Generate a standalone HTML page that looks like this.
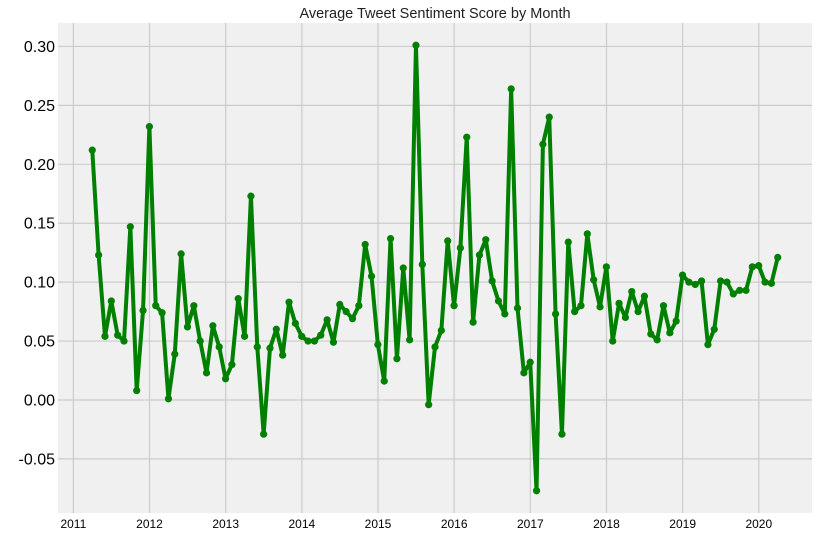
<!DOCTYPE html>
<html><head><meta charset="utf-8"><style>
html,body{margin:0;padding:0;background:#fff;}
svg{display:block;font-family:"Liberation Sans","DejaVu Sans",sans-serif;}
</style></head><body>
<svg id="chart" width="818" height="537">
<rect x="58" y="23" width="754" height="490" fill="#f0f0f0"/>
<text x="435" y="18" text-anchor="middle" font-size="14.5" fill="#222">Average Tweet Sentiment Score by Month</text>
<g id="grid"></g><g id="series"></g>
</svg>
<script>
const startYear = 2011, startMonth = 3;
const values = [0.212,0.123,0.054,0.084,0.055,0.050,0.147,0.008,0.076,0.232,0.080,0.074,0.001,0.039,0.124,0.062,0.080,0.050,0.023,0.063,0.045,0.018,0.030,0.086,0.054,0.173,0.045,-0.029,0.044,0.060,0.038,0.083,0.065,0.054,0.050,0.050,0.055,0.068,0.049,0.081,0.075,0.069,0.080,0.132,0.105,0.047,0.016,0.137,0.035,0.112,0.051,0.301,0.115,-0.004,0.045,0.059,0.135,0.080,0.129,0.223,0.066,0.123,0.136,0.101,0.084,0.073,0.264,0.078,0.023,0.032,-0.077,0.217,0.240,0.073,-0.029,0.134,0.075,0.080,0.141,0.102,0.079,0.113,0.050,0.082,0.070,0.092,0.075,0.088,0.056,0.051,0.080,0.057,0.067,0.106,0.100,0.098,0.101,0.047,0.060,0.101,0.100,0.090,0.093,0.093,0.113,0.114,0.100,0.099,0.121];
const yTicks = [-0.05,0,0.05,0.10,0.15,0.20,0.25,0.30];
const xTicks = [2011,2012,2013,2014,2015,2016,2017,2018,2019,2020];
const NS="http://www.w3.org/2000/svg";
const X0=58,X1=812,Y0=23,Y1=513;
const n=values.length;
const tOf=i=>startYear+(startMonth-1+i)/12+0.98/12;
const tMin=tOf(0),tMax=tOf(n-1),tPad=(tMax-tMin)*0.05;
const vMin=Math.min(...values),vMax=Math.max(...values),vPad=(vMax-vMin)*0.05;
const xs=t=>X0+(t-(tMin-tPad))/((tMax+tPad)-(tMin-tPad))*(X1-X0);
const ys=v=>Y1-(v-(vMin-vPad))/((vMax+vPad)-(vMin-vPad))*(Y1-Y0);
const grid=document.getElementById('grid'),ser=document.getElementById('series'),svg=document.getElementById('chart');
function mk(tag,attrs,parent){const e=document.createElementNS(NS,tag);for(const k in attrs)e.setAttribute(k,attrs[k]);parent.appendChild(e);return e;}
yTicks.forEach(v=>{const y=ys(v);
 const l=mk('line',{x1:X0,x2:X1,y1:y,y2:y,stroke:'#cbcbcb','stroke-width':1.2},grid);
 
 
 const t=mk('text',{x:X0-3,y:y+5.5,'text-anchor':'end','font-size':16,fill:'#000'},svg);
 t.textContent=v.toFixed(2);
 
 
});
xTicks.forEach(yr=>{const x=xs(yr);
 const l=mk('line',{x1:x,x2:x,y1:Y0,y2:Y1,stroke:'#cbcbcb','stroke-width':1.2},grid);
 
 
 const t=mk('text',{x:x,y:528,'text-anchor':'middle','font-size':12,fill:'#000'},svg);
 t.textContent=yr;
 
 
});
const pts=values.map((v,i)=>xs(tOf(i)).toFixed(2)+','+ys(v).toFixed(2)).join(' ');
const line=mk('polyline',{points:pts,fill:'none',stroke:'#008000','stroke-width':4,'stroke-linejoin':'round'},ser);


values.forEach((v,i)=>{
 const c=mk('circle',{cx:xs(tOf(i)),cy:ys(v),r:3.6,fill:'#008000'},ser);
 
 
});
</script>
</body></html>
